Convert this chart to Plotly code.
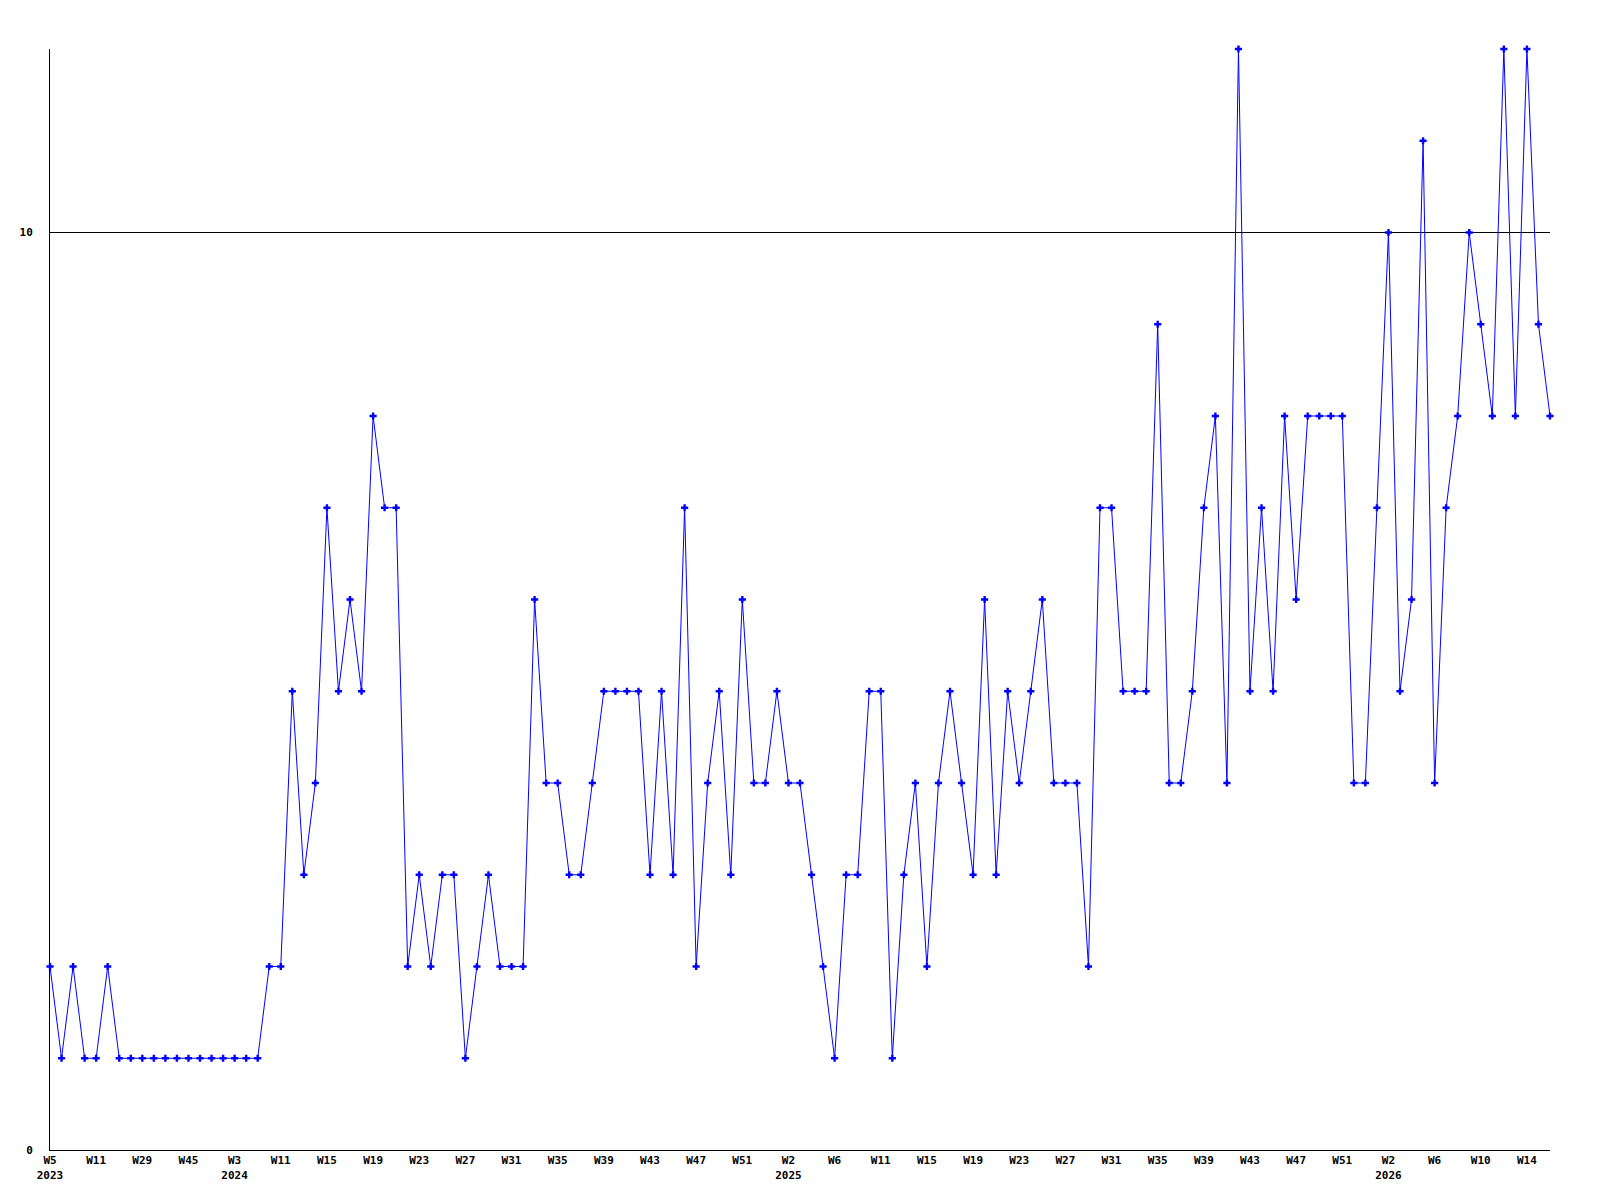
"""
Weekly count timeline (categorical weeks, 2023-2026).
"""
import plotly.graph_objects as go

# weeks that have data, per year (gaps are weeks without data)
weeks_2023 = [5, 6, 8, 9, 11, 13, 17, 22, 29, 31, 35, 40, 45, 47, 49, 51]
weeks_2024 = [3, 5, 7, 9, 11, 12, 13, 14, 15, 16, 17, 18, 19, 20, 21, 22, 23,
              24, 25, 26, 27, 28, 29, 30, 31, 32, 33, 34, 35, 36, 37, 38, 39,
              40, 41, 42, 43, 44, 45, 46, 47, 48, 49, 50, 51, 52]
weeks_2025 = [0, 1, 2, 3, 4, 5, 6, 7, 8, 10, 11, 12, 13, 14, 15, 16, 17, 18,
              19, 20, 21, 22, 23, 24, 25, 26, 27, 28, 29, 30, 31, 32, 33, 34,
              35, 36, 37, 38, 39, 40, 41, 42, 43, 44, 45, 46, 47, 48, 49, 50,
              51, 52]
weeks_2026 = [0, 1, 2, 3, 4, 5, 6, 7, 8, 9, 10, 11, 12, 13, 14, 15, 16]

counts = [
    2, 1, 2, 1, 1, 2, 1, 1, 1, 1, 1, 1, 1, 1, 1, 1,            # 2023
    1, 1, 1, 2, 2, 5, 3, 4, 7, 5, 6, 5, 8, 7, 7, 2, 3, 2, 3, 3,
    1, 2, 3, 2, 2, 2, 6, 4, 4, 3, 3, 4, 5, 5, 5, 5, 3, 5, 3, 7,
    2, 4, 5, 3, 6, 4,                                            # 2024
    4, 5, 4, 4, 3, 2, 1, 3, 3, 5, 5, 1, 3, 4, 2, 4, 5, 4, 3, 6,
    3, 5, 4, 5, 6, 4, 4, 4, 2, 7, 7, 5, 5, 5, 9, 4, 4, 5, 7, 8,
    4, 12, 5, 7, 5, 8, 6, 8, 8, 8, 8, 4,                         # 2025
    4, 7, 10, 5, 6, 11, 4, 7, 8, 10, 9, 8, 12, 8, 12, 9, 8,      # 2026
]

y_ticks = [0, 10]

years_weeks = ([(2023, w) for w in weeks_2023] + [(2024, w) for w in weeks_2024]
               + [(2025, w) for w in weeks_2025] + [(2026, w) for w in weeks_2026])
categories = [f"{y}-W{w:02d}" for y, w in years_weeks]

# every 4th week gets a label; first label of each year also shows the year
tickvals, ticktext, seen_years = [], [], set()
for i in range(0, len(categories), 4):
    y, w = years_weeks[i]
    label = f"W{w}"
    if y not in seen_years:
        label += f"<br>{y}"
        seen_years.add(y)
    tickvals.append(categories[i])
    ticktext.append(label)

FONT = "DejaVu Sans Mono"

fig = go.Figure()
fig.add_trace(go.Scatter(
    x=categories,
    y=counts,
    mode="lines+markers",
    line=dict(color="#0000ff", width=1),
    marker=dict(symbol="cross", size=6, color="#0000ff"),
    cliponaxis=False,
    showlegend=False,
))

fig.update_xaxes(
    type="category",
    range=[0, len(categories) - 1],
    tickmode="array",
    tickvals=tickvals,
    ticktext=ticktext,
    showline=True, linecolor="black", linewidth=1,
    showgrid=False, zeroline=False, ticks="",
    layer="below traces",
    tickfont=dict(family=FONT, size=11, color="black", weight="bold"),
    tickangle=0,
)
fig.update_yaxes(
    range=[0, 12],
    tickmode="array",
    tickvals=y_ticks,
    showline=True, linecolor="black", linewidth=1,
    showgrid=True, gridcolor="black", gridwidth=1,
    zeroline=False, ticks="",
    layer="below traces",
    ticklabelstandoff=14,
    tickfont=dict(family=FONT, size=11, color="black", weight="bold"),
)
fig.update_layout(
    width=1600, height=1200,
    margin=dict(l=42, r=58, t=41, b=58),
    plot_bgcolor="white", paper_bgcolor="white",
)

fig.write_html("out.html")
